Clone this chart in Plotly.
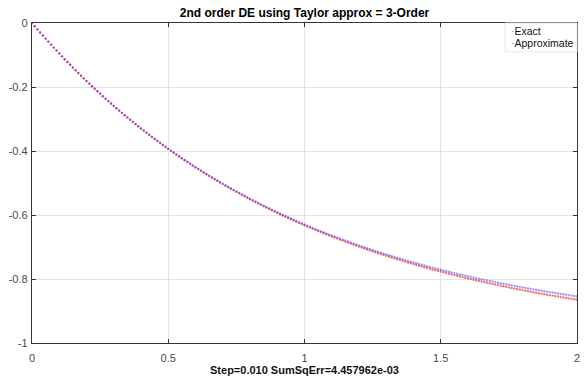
import plotly.graph_objects as go

# Sample grid spacing (also shown in the x-axis caption)
step = 0.010

# Exact solution at each grid point, x = 0 .. 2
exact = [
    0.0000, -0.0100, -0.0198, -0.0296, -0.0392, -0.0488, -0.0582, -0.0676, -0.0769, -0.0861,
    -0.0952, -0.1042, -0.1131, -0.1219, -0.1306, -0.1393, -0.1479, -0.1563, -0.1647, -0.1730,
    -0.1813, -0.1894, -0.1975, -0.2055, -0.2134, -0.2212, -0.2289, -0.2366, -0.2442, -0.2517,
    -0.2592, -0.2666, -0.2739, -0.2811, -0.2882, -0.2953, -0.3023, -0.3093, -0.3161, -0.3229,
    -0.3297, -0.3363, -0.3430, -0.3495, -0.3560, -0.3624, -0.3687, -0.3750, -0.3812, -0.3874,
    -0.3935, -0.3995, -0.4055, -0.4114, -0.4173, -0.4231, -0.4288, -0.4345, -0.4401, -0.4457,
    -0.4512, -0.4566, -0.4621, -0.4674, -0.4727, -0.4780, -0.4831, -0.4883, -0.4934, -0.4984,
    -0.5034, -0.5084, -0.5132, -0.5181, -0.5229, -0.5276, -0.5323, -0.5370, -0.5416, -0.5462,
    -0.5507, -0.5551, -0.5596, -0.5640, -0.5683, -0.5726, -0.5768, -0.5810, -0.5852, -0.5893,
    -0.5934, -0.5975, -0.6015, -0.6054, -0.6094, -0.6133, -0.6171, -0.6209, -0.6247, -0.6284,
    -0.6321, -0.6358, -0.6394, -0.6430, -0.6465, -0.6501, -0.6535, -0.6570, -0.6604, -0.6638,
    -0.6671, -0.6704, -0.6737, -0.6770, -0.6802, -0.6834, -0.6865, -0.6896, -0.6927, -0.6958,
    -0.6988, -0.7018, -0.7048, -0.7077, -0.7106, -0.7135, -0.7163, -0.7192, -0.7220, -0.7247,
    -0.7275, -0.7302, -0.7329, -0.7355, -0.7382, -0.7408, -0.7433, -0.7459, -0.7484, -0.7509,
    -0.7534, -0.7559, -0.7583, -0.7607, -0.7631, -0.7654, -0.7678, -0.7701, -0.7724, -0.7746,
    -0.7769, -0.7791, -0.7813, -0.7835, -0.7856, -0.7878, -0.7899, -0.7920, -0.7940, -0.7961,
    -0.7981, -0.8001, -0.8021, -0.8041, -0.8060, -0.8079, -0.8099, -0.8118, -0.8136, -0.8155,
    -0.8173, -0.8191, -0.8209, -0.8227, -0.8245, -0.8262, -0.8280, -0.8297, -0.8314, -0.8330,
    -0.8347, -0.8363, -0.8380, -0.8396, -0.8412, -0.8428, -0.8443, -0.8459, -0.8474, -0.8489,
    -0.8504, -0.8519, -0.8534, -0.8549, -0.8563, -0.8577, -0.8591, -0.8605, -0.8619, -0.8633,
    -0.8647,
]

# Third-order Taylor approximation at the same grid points
approx = [
    0.0000, -0.0100, -0.0198, -0.0296, -0.0392, -0.0488, -0.0582, -0.0676, -0.0769, -0.0861,
    -0.0952, -0.1042, -0.1131, -0.1219, -0.1305, -0.1392, -0.1478, -0.1562, -0.1646, -0.1729,
    -0.1812, -0.1893, -0.1974, -0.2054, -0.2132, -0.2210, -0.2287, -0.2364, -0.2440, -0.2515,
    -0.2590, -0.2663, -0.2736, -0.2808, -0.2879, -0.2950, -0.3020, -0.3089, -0.3157, -0.3225,
    -0.3293, -0.3359, -0.3425, -0.3490, -0.3555, -0.3619, -0.3681, -0.3744, -0.3806, -0.3868,
    -0.3928, -0.3988, -0.4048, -0.4107, -0.4165, -0.4223, -0.4280, -0.4336, -0.4392, -0.4448,
    -0.4502, -0.4556, -0.4611, -0.4664, -0.4716, -0.4769, -0.4819, -0.4871, -0.4922, -0.4971,
    -0.5021, -0.5071, -0.5118, -0.5167, -0.5215, -0.5261, -0.5308, -0.5354, -0.5400, -0.5446,
    -0.5490, -0.5534, -0.5578, -0.5622, -0.5664, -0.5707, -0.5748, -0.5790, -0.5832, -0.5872,
    -0.5913, -0.5953, -0.5993, -0.6031, -0.6071, -0.6109, -0.6147, -0.6184, -0.6222, -0.6258,
    -0.6295, -0.6331, -0.6367, -0.6402, -0.6436, -0.6472, -0.6505, -0.6540, -0.6573, -0.6607,
    -0.6639, -0.6671, -0.6704, -0.6736, -0.6768, -0.6799, -0.6829, -0.6860, -0.6890, -0.6921,
    -0.6950, -0.6979, -0.7009, -0.7037, -0.7065, -0.7094, -0.7121, -0.7149, -0.7177, -0.7203,
    -0.7230, -0.7257, -0.7283, -0.7308, -0.7335, -0.7360, -0.7384, -0.7409, -0.7434, -0.7458,
    -0.7482, -0.7507, -0.7530, -0.7553, -0.7576, -0.7598, -0.7622, -0.7644, -0.7666, -0.7687,
    -0.7710, -0.7731, -0.7752, -0.7773, -0.7793, -0.7815, -0.7835, -0.7855, -0.7874, -0.7894,
    -0.7913, -0.7933, -0.7952, -0.7971, -0.7989, -0.8007, -0.8026, -0.8044, -0.8061, -0.8080,
    -0.8097, -0.8114, -0.8131, -0.8148, -0.8165, -0.8181, -0.8198, -0.8214, -0.8230, -0.8245,
    -0.8261, -0.8277, -0.8293, -0.8308, -0.8323, -0.8338, -0.8352, -0.8367, -0.8381, -0.8395,
    -0.8409, -0.8423, -0.8437, -0.8451, -0.8464, -0.8477, -0.8490, -0.8503, -0.8515, -0.8528,
    -0.8541,
]

x = [round(i * step, 2) for i in range(len(exact))]

x_ticks = [0, 0.5, 1, 1.5, 2]
x_tick_labels = ["0", "0.5", "1", "1.5", "2"]
y_ticks = [0, -0.2, -0.4, -0.6, -0.8, -1]
y_tick_labels = ["0", "-0.2", "-0.4", "-0.6", "-0.8", "-1"]

series_names = ["Exact", "Approximate"]
series_colors = ["rgba(255,0,0,0.55)", "rgba(40,40,255,0.45)"]
legend_dot_colors = ["#ff6060", "#6060ff"]

title_text = "2nd order DE using Taylor approx = 3-Order"
xlabel_text = "Step=0.010 SumSqErr=4.457962e-03"

FONT = "Liberation Sans, Arial, sans-serif"
AXIS_COLOR = "#333333"
TICK_TEXT = "#4a4a4a"
GRID_COLOR = "#e3e3e3"

fig = go.Figure()
for name, ys, col in zip(series_names, [exact, approx], series_colors):
    fig.add_trace(go.Scatter(
        x=x, y=ys, mode="markers", name=name,
        marker=dict(symbol="circle", size=2.4, color=col, line=dict(width=0)),
        showlegend=False,
    ))

axis_common = dict(
    showline=True, linecolor=AXIS_COLOR, linewidth=1.3, mirror="allticks",
    ticks="inside", ticklen=4, tickwidth=1, tickcolor=AXIS_COLOR,
    showgrid=True, gridcolor=GRID_COLOR, gridwidth=1, zeroline=False,
    tickfont=dict(family=FONT, size=11, color=TICK_TEXT),
)

fig.update_xaxes(range=[0, 2], tickvals=x_ticks, ticktext=x_tick_labels,
                 ticklabelstandoff=5,
                 title=dict(text="<b>" + xlabel_text + "</b>", standoff=0,
                            font=dict(family=FONT, size=11, color="#111111")),
                 **axis_common)
fig.update_yaxes(range=[-1, 0], tickvals=y_ticks, ticktext=y_tick_labels,
                 ticklabelstandoff=1,
                 **axis_common)

# Compact legend box in the top-right corner
legend_x0 = 0.868
fig.add_shape(type="rect", xref="paper", yref="paper",
              x0=legend_x0, x1=1.0, y0=0.91, y1=1.0,
              line=dict(color="#e8e8e8", width=1), fillcolor="rgba(255,255,255,0.9)",
              layer="above")
for i, (name, col) in enumerate(zip(series_names, legend_dot_colors)):
    fig.add_annotation(
        xref="paper", yref="paper", x=legend_x0 + 0.008, y=0.975 - i * 0.036,
        xanchor="left", yanchor="middle", showarrow=False,
        text=f'<span style="color:{col}">·</span>{name}',
        font=dict(family=FONT, size=10.5, color="#111111"),
    )

fig.update_layout(
    width=584, height=381,
    margin=dict(l=32, r=4, t=23, b=38),
    paper_bgcolor="white", plot_bgcolor="white",
    title=dict(text="<b>" + title_text + "</b>", x=0.5, xref="paper",
               y=1 - 13 / 381, yref="container", yanchor="middle",
               font=dict(family=FONT, size=12, color="#000000")),
)

fig.write_html("out.html")
